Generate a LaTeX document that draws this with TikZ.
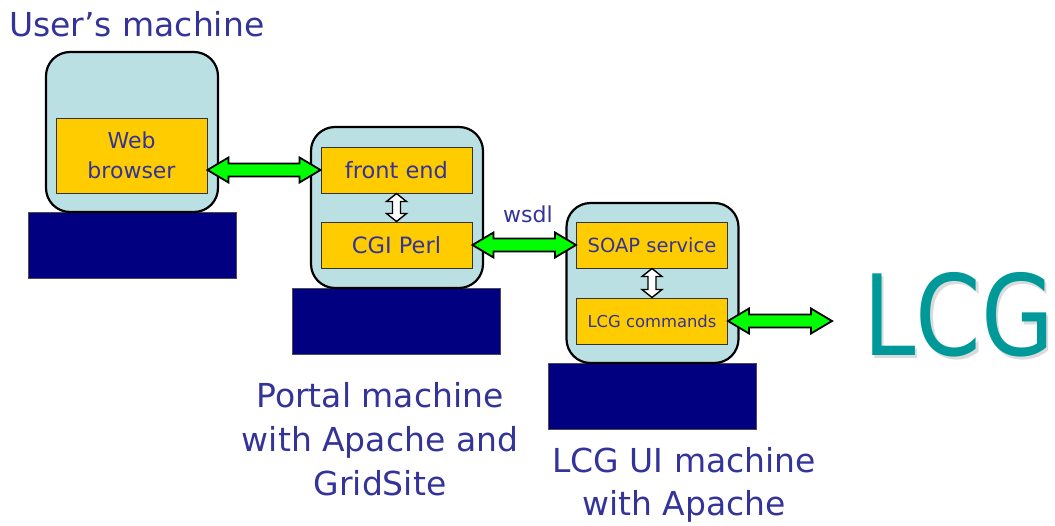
\documentclass[tikz,border=0pt]{standalone}
\usepackage{fontspec}
\setmainfont{DejaVu Sans}
\usetikzlibrary{calc}

\definecolor{boxblue}{RGB}{187,224,227}
\definecolor{partyellow}{RGB}{255,204,0}
\definecolor{basenavy}{RGB}{0,0,128}
\definecolor{textblue}{RGB}{51,51,153}
\definecolor{linkgreen}{RGB}{0,255,0}
\definecolor{lcgteal}{RGB}{0,153,153}

\tikzset{
  machine/.style={draw=black, line width=2.2pt, fill=boxblue, rounded corners=24pt,
    minimum width=172pt, minimum height=160pt, inner sep=0pt},
  pedestal/.style={draw=black!70, line width=0.8pt, fill=basenavy,
    minimum width=208pt, minimum height=66pt, inner sep=0pt},
  part/.style={draw=black!80, line width=1pt, fill=partyellow, text=textblue,
    minimum width=151pt, minimum height=46pt, inner sep=0pt, align=center},
  caption/.style={text=textblue, font=\fontsize{33}{44}\selectfont, align=center, inner sep=0pt},
  link/.style={draw=black, line width=1.8pt, fill=linkgreen, line join=miter},
  innerlink/.style={draw=black, line width=1.4pt, fill=white, line join=miter}
}

% fat double arrow, left tip to right tip
\newcommand{\hlink}[2]{%
  \draw[link] (#1) -- ++(21,-12.5) -- ++(0,6) -- ($(#2)+(-21,-6.5)$) -- ++(0,-6)
    -- (#2) -- ++(-21,12.5) -- ++(0,-6) -- ($(#1)+(21,6.5)$) -- ++(0,6) -- cycle;}
% small double arrow, top tip to bottom tip
\newcommand{\vlink}[2]{%
  \draw[innerlink] (#1) -- ++(10,8) -- ++(-6,0) -- ($(#2)+(4,-8)$) -- ++(6,0)
    -- (#2) -- ++(-10,-8) -- ++(6,0) -- ($(#1)+(-4,8)$) -- ++(-6,0) -- cycle;}

\begin{document}
\begin{tikzpicture}[x=1pt, y=-1pt]
  \useasboundingbox (0,0) rectangle (1055,525);

  % user's machine
  \node[caption, anchor=base west] (usertitle) at (9,36) {User’s machine};
  \node[pedestal] (userbase) at (132,245) {};
  \node[machine] (user) at (132,132) {};
  \node[part, minimum height=75pt, font=\fontsize{22}{30}\selectfont] (web) at (131.5,155.5) {Web\\browser};

  % portal machine
  \node[pedestal] (portalbase) at (396,321) {};
  \node[machine, minimum height=161pt] (portal) at (397,207.5) {};
  \node[part, font=\fontsize{22.5}{27}\selectfont] (front) at (396.5,170) {front end};
  \node[part, font=\fontsize{22.5}{27}\selectfont] (cgi) at (396.5,245) {CGI Perl};
  \node[caption, anchor=base] (portaltext) at (380,495) {Portal machine\\with Apache and\\GridSite};

  % LCG UI machine
  \node[pedestal] (uibase) at (652,396.5) {};
  \node[machine] (ui) at (652.5,283) {};
  \node[part, font=\fontsize{19.5}{24}\selectfont] (soap) at (652,245) {SOAP service};
  \node[part, font=\fontsize{16.4}{20}\selectfont] (cmds) at (652,321) {LCG commands};
  \node[caption, font=\fontsize{33}{43}\selectfont, anchor=base] (uitext) at (684,515) {LCG UI machine\\with Apache};

  % LCG, with its grey shadow
  \node[text=lcgteal, anchor=base west, inner sep=0pt, font=\fontsize{112}{112}\selectfont] (lcg) at (863,355)
    {\scalebox{0.84}[1]{\rlap{\hspace{3pt}\raisebox{-3pt}{\color{black!14}LCG}}LCG}};
  \coordinate (gridin) at (832,321);

  % links
  \hlink{front.west -| web.east}{front.west}
  \hlink{cgi.east}{soap.west}
  \hlink{cmds.east}{gridin}
  \vlink{front.south}{cgi.north}
  \vlink{soap.south}{cmds.north}
  \node[text=textblue, anchor=base, inner sep=0pt, font=\fontsize{22}{26}\selectfont] (wsdl) at (528,222) {wsdl};
\end{tikzpicture}
\end{document}
